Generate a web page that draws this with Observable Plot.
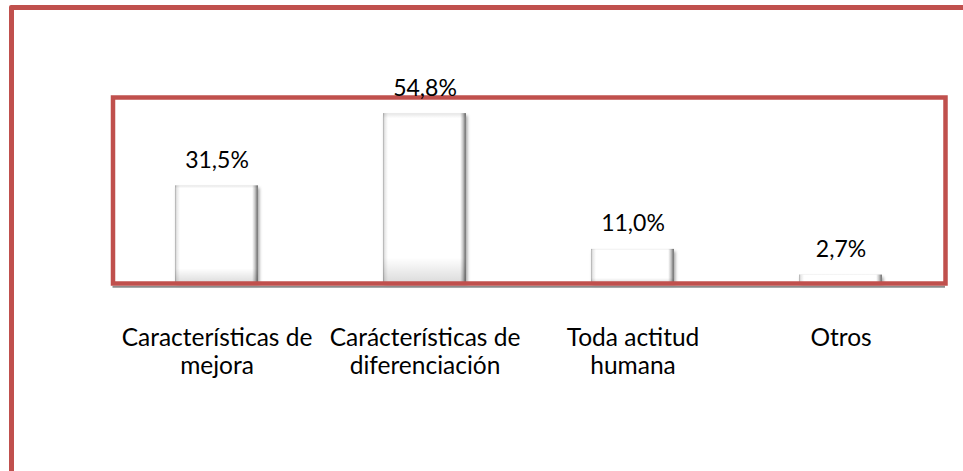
<!DOCTYPE html>
<html>
<head>
<meta charset="utf-8">
<script src="https://cdn.jsdelivr.net/npm/d3@7"></script>
<script src="https://cdn.jsdelivr.net/npm/@observablehq/plot@0.6"></script>
<style>
  html, body { margin: 0; padding: 0; background: #fff; }
  #wrap { position: relative; width: 963px; height: 471px; overflow: hidden; background: #fff; }
  #outer { position: absolute; left: 9px; top: 5px; width: 1000px; height: 560px;
           border: 5px solid #c0504d; border-radius: 2px; box-sizing: border-box; }
  #chart { position: absolute; left: 0; top: 0; }
</style>
</head>
<body>
<div id="wrap">
  <div id="outer"></div>
  <div id="chart"></div>
</div>
<script>
const categories = ["Características de\nmejora", "Carácterísticas de\ndiferenciación", "Toda actitud\nhumana", "Otros"];
const values = [31.5, 54.8, 11.0, 2.7];
const valueLabels = ["31,5%", "54,8%", "11,0%", "2,7%"];

const data = categories.map((c, i) => ({category: c, value: values[i], label: valueLabels[i]}));

const FONT = "Lato, 'Open Sans', sans-serif";
const FS = 23;
const FS_CAT = 24.5;

const defs = () => {
  const d = d3.create("svg:defs");
  const gh = d.append("linearGradient").attr("id", "bevelH").attr("x1", 0).attr("x2", 1).attr("y1", 0).attr("y2", 0);
  [[0, "#a8a8a8"], [0.02, "#e6e6e6"], [0.06, "#ffffff"], [0.93, "#ffffff"], [0.965, "#c4c4c4"], [0.985, "#8a8a8a"], [1, "#7a7a7a"]]
    .forEach(([o, c]) => gh.append("stop").attr("offset", o).attr("stop-color", c));
  const gv = d.append("linearGradient").attr("id", "bevelV").attr("x1", 0).attr("x2", 0).attr("y1", 0).attr("y2", 1);
  [[0, "rgba(0,0,0,0.10)"], [0.03, "rgba(0,0,0,0)"], [0.85, "rgba(0,0,0,0)"], [1, "rgba(0,0,0,0.14)"]]
    .forEach(([o, c]) => gv.append("stop").attr("offset", o).attr("stop-color", c));
  const f = d.append("filter").attr("id", "shadow").attr("x", "-20%").attr("y", "-20%").attr("width", "150%").attr("height", "150%");
  f.append("feDropShadow").attr("dx", 1.5).attr("dy", 2.5).attr("stdDeviation", 1.8)
    .attr("flood-color", "#000").attr("flood-opacity", 0.35);
  return d.node();
};

const chart = Plot.plot({
  width: 963,
  height: 471,
  marginLeft: 112.5,
  marginRight: 18,
  marginTop: 97,
  marginBottom: 188,
  style: {fontFamily: FONT, fontSize: FS + "px", color: "#000", background: "transparent", overflow: "visible"},
  x: {domain: categories, paddingInner: 0.6, paddingOuter: 0.3, label: null},
  y: {domain: [0, 60], axis: null},
  marks: [
    defs,
    Plot.barY(data, {x: "category", y: "value", fill: "url(#bevelH)"}),
    Plot.barY(data, {x: "category", y: "value", fill: "url(#bevelV)"}),
    Plot.ruleY([0], {stroke: "#8c8c8c", strokeWidth: 2, dy: 3.2}),
    Plot.frame({stroke: "#c0504d", strokeWidth: 4.5}),
    Plot.text(data, {x: "category", y: "value", text: "label", lineAnchor: "bottom", dy: -18,
                     fill: "#000", fontSize: FS, fontFamily: FONT}),
    Plot.axisX({tickSize: 0, tickPadding: 42, fontSize: FS_CAT, fontFamily: FONT, lineHeight: 1.16, fill: "#000"})
  ]
});

d3.select(chart).selectAll("g[aria-label='bar']").filter(function(d, i) { return i === 0; }).attr("filter", "url(#shadow)");
document.getElementById("chart").appendChild(chart);
</script>
</body>
</html>
